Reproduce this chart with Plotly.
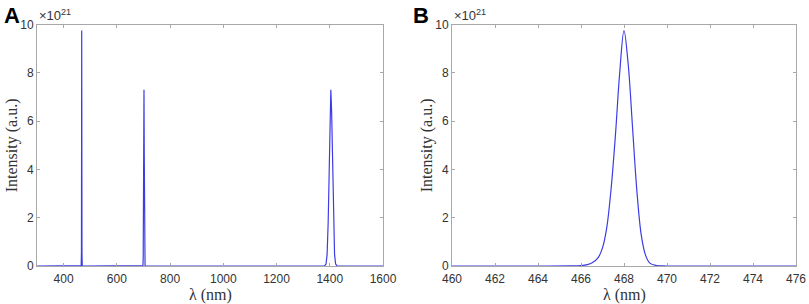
import plotly.graph_objects as go

# ---------- data (intensity in units of 1e21) ----------
# Panel A: full spectrum
wl_a = [300, 460, 466, 467, 467.5, 468, 468.5, 469, 470, 480,
        690, 696, 698, 699, 700, 701, 702, 703, 704, 705, 706, 708, 720,
        1370, 1380, 1386, 1390, 1394, 1398, 1401, 1404, 1407, 1410, 1414, 1418, 1422, 1428, 1440, 1600]
int_a = [0, 0, 0.02, 0.55, 5.2, 9.75, 5.3, 0.5, 0.0, 0,
         0, 0, 0.02, 0.3, 1.6, 4.6, 7.3, 4.6, 1.6, 0.3, 0.02, 0, 0,
         0, 0, 0.08, 0.48, 1.8, 4.4, 6.4, 7.3, 6.4, 4.4, 1.8, 0.48, 0.08, 0, 0, 0]

# Panel B: zoom on the 468 nm line
wl_b = [460, 464, 465.5, 466.0, 466.3, 466.5, 466.8, 467.0, 467.2, 467.4, 467.6, 467.8,
        468.0, 468.2, 468.4, 468.6, 468.8, 469.0, 469.2, 469.5, 470, 476]
int_b = [0, 0, 0.005, 0.02, 0.06, 0.12, 0.35, 0.75, 1.6, 3.2, 5.4, 8.0,
         9.75, 8.3, 5.7, 3.1, 1.3, 0.45, 0.12, 0.02, 0, 0]

xticks_a = [400, 600, 800, 1000, 1200, 1400, 1600]
xticks_b = [460, 462, 464, 466, 468, 470, 472, 474, 476]
yticks = [0, 2, 4, 6, 8, 10]

line_col = "rgb(60,60,230)"
axis_col = "#a8a8a8"
lab_col = "#333333"
tick_font = dict(family="Liberation Sans, Arial", size=12, color=lab_col)
serif = "Liberation Serif, Times New Roman"

fig = go.Figure()
fig.add_trace(go.Scatter(x=wl_a, y=int_a, mode="lines", line=dict(color=line_col, width=1.2),
                         xaxis="x", yaxis="y", showlegend=False, hoverinfo="skip"))
fig.add_trace(go.Scatter(x=wl_b, y=int_b, mode="lines", line=dict(color=line_col, width=1.2, shape="spline"),
                         xaxis="x2", yaxis="y2", showlegend=False, hoverinfo="skip"))

W, H = 809, 304
xa = (37 / W, 383 / W)
xb = (452 / W, 796 / W)
yd = (1 - 266 / H, 1 - 24.5 / H)

common_x = dict(showgrid=False, zeroline=False, showline=True, linecolor=axis_col, linewidth=1,
                mirror="ticks", ticks="inside", ticklen=3, tickcolor=axis_col,
                tickfont=tick_font, automargin=False)
common_y = dict(common_x, range=[0, 10], tickvals=yticks)

fig.update_layout(
    width=W, height=H, margin=dict(l=0, r=0, t=0, b=0),
    paper_bgcolor="white", plot_bgcolor="white",
    xaxis=dict(common_x, domain=xa, range=[300, 1600], tickvals=xticks_a, anchor="y", ticklabelstandoff=2),
    yaxis=dict(common_y, domain=yd, anchor="x"),
    xaxis2=dict(common_x, domain=xb, range=[460, 476], tickvals=xticks_b, anchor="y2", ticklabelstandoff=2),
    yaxis2=dict(common_y, domain=yd, anchor="x2"),
)

ann = []
for dom, letter, lx in [(xa, "A", 2), (xb, "B", 411)]:
    cx = (dom[0] + dom[1]) / 2
    ann.append(dict(text="λ (nm)", x=cx, y=1 - 295 / H, xref="paper", yref="paper",
                    showarrow=False, font=dict(family=serif, size=16, color=lab_col),
                    xanchor="center", yanchor="middle"))
    ann.append(dict(text="Intensity (a.u.)", x=dom[0] - 25 / W, y=(yd[0] + yd[1]) / 2,
                    xref="paper", yref="paper", textangle=-90, showarrow=False,
                    font=dict(family=serif, size=16, color=lab_col),
                    xanchor="center", yanchor="middle"))
    ann.append(dict(text="×10<sup>21</sup>", x=dom[0], y=1 - 15 / H, xref="paper", yref="paper",
                    showarrow=False, font=dict(family="Liberation Sans, Arial", size=13, color=lab_col),
                    xanchor="left", yanchor="middle"))
    ann.append(dict(text="<b>" + letter + "</b>", x=lx / W, y=1 - 16 / H, xref="paper", yref="paper",
                    showarrow=False, font=dict(family="Liberation Sans, Arial", size=22, color="black"),
                    xanchor="left", yanchor="middle"))
fig.update_layout(annotations=ann)

fig.write_html("out.html", config={"displayModeBar": False},
               post_script="document.body.style.margin='0px';")
